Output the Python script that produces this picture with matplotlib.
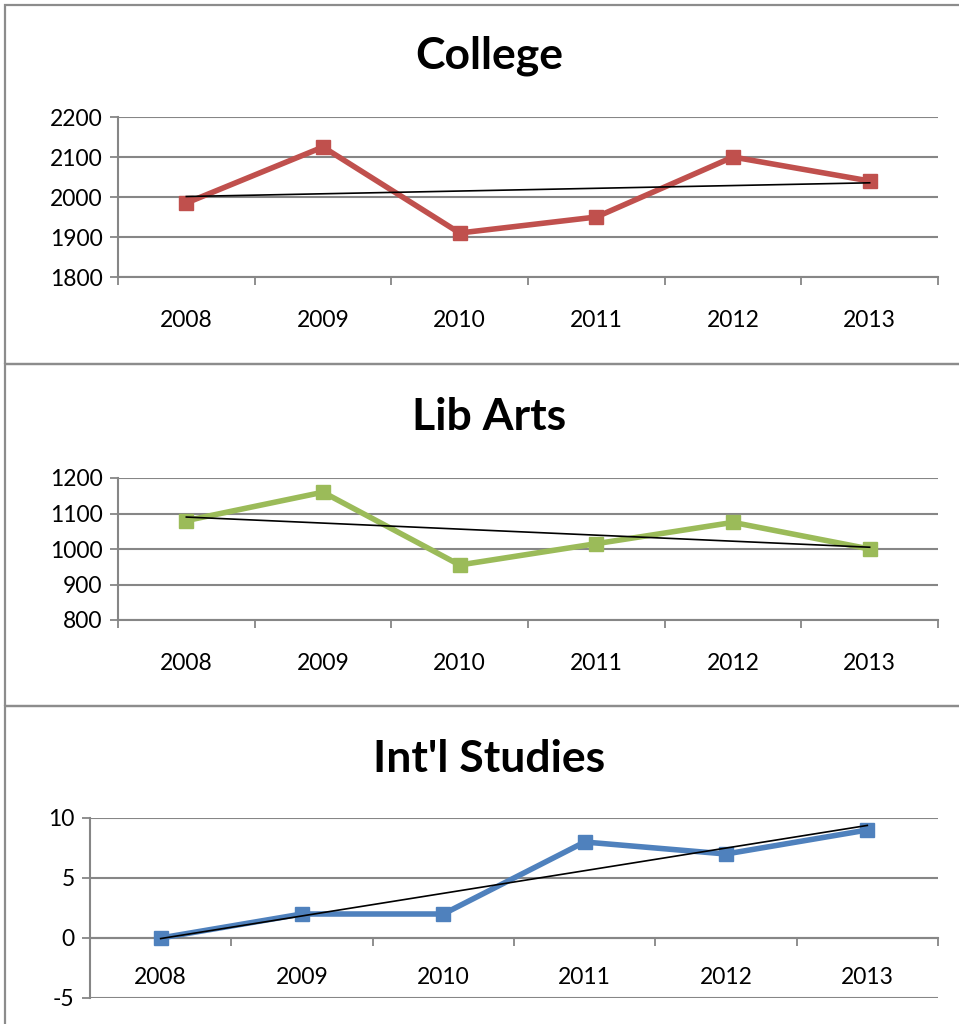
import numpy as np
import matplotlib
matplotlib.use('Agg')
import matplotlib.pyplot as plt
from matplotlib.patches import Rectangle

years = ['2008', '2009', '2010', '2011', '2012', '2013']
college = [1985, 2125, 1910, 1950, 2100, 2040]
lib_arts = [1080, 1160, 955, 1015, 1075, 1000]
intl = [0, 2, 2, 8, 7, 9]

titles = ['College', 'Lib Arts', "Int'l Studies"]
colors = ['#C0504D', '#9BBB59', '#4F81BD']
series = [college, lib_arts, intl]
ylims = [(1800, 2200), (800, 1200), (-5, 10)]
ysteps = [100, 100, 5]

W, H = 959, 1024
GRAY = '#868686'
plt.rcParams['font.family'] = ['Lato', 'DejaVu Sans']
plt.rcParams['axes.unicode_minus'] = False

fig = plt.figure(figsize=(W / 100, H / 100), dpi=100)

# axes boxes in pixels: left, right, top, bottom
boxes = [(118, 938, 117, 277), (118, 938, 478, 620), (90, 938, 818, 998)]
title_y = [56, 417, 759]
panels = [(5, 364), (364, 706), (706, 1030)]

for top, bot in panels:
    fig.add_artist(Rectangle((5 / W, 1 - bot / H), 1.0, (bot - top) / H,
                             transform=fig.transFigure, fill=False,
                             edgecolor='#8c8c8c', linewidth=1.6))

for i in range(3):
    l, r, t, b = boxes[i]
    ax = fig.add_axes([l / W, 1 - b / H, (r - l) / W, (b - t) / H])
    x = np.arange(len(years)) + 0.5
    y = np.array(series[i], dtype=float)
    ax.plot(x, y, color=colors[i], linewidth=4, marker='s', markersize=10,
            solid_joinstyle='miter', zorder=3)
    # linear trendline
    k, c = np.polyfit(np.arange(len(years)), y, 1)
    xt = np.arange(len(years))
    ax.plot(x, k * xt + c, color='black', linewidth=1.2, zorder=4)

    lo, hi = ylims[i]
    ax.set_xlim(0, 6)
    ax.set_ylim(lo, hi)
    ax.set_yticks(np.arange(lo, hi + 1, ysteps[i]))
    ax.yaxis.grid(True, color=GRAY, linewidth=1.5)
    ax.set_axisbelow(True)

    ax.set_xticks(np.arange(0, 7))
    ax.set_xticklabels([])
    ax.set_xticks(x, minor=True)
    ax.set_xticklabels(years, minor=True)
    ax.tick_params(axis='x', which='major', direction='out', length=6,
                   color=GRAY, width=1.3)
    ax.tick_params(axis='x', which='minor', length=0, pad=24, labelsize=16.5)
    ax.tick_params(axis='y', direction='out', length=6, color=GRAY,
                   width=1.3, labelsize=16.5, pad=5)

    for s in ['top', 'right']:
        ax.spines[s].set_visible(False)
    ax.spines['left'].set_color(GRAY)
    ax.spines['left'].set_linewidth(1.5)
    ax.spines['bottom'].set_color(GRAY)
    ax.spines['bottom'].set_linewidth(1.5)
    if lo < 0:
        ax.spines['bottom'].set_position(('data', 0))
        ax.tick_params(axis='x', which='minor', pad=21)

    fig.text(0.51, 1 - title_y[i] / H, titles[i], ha='center', va='center',
             fontsize=32, fontweight='bold')

fig.savefig('out.png', dpi=100, facecolor='white')
